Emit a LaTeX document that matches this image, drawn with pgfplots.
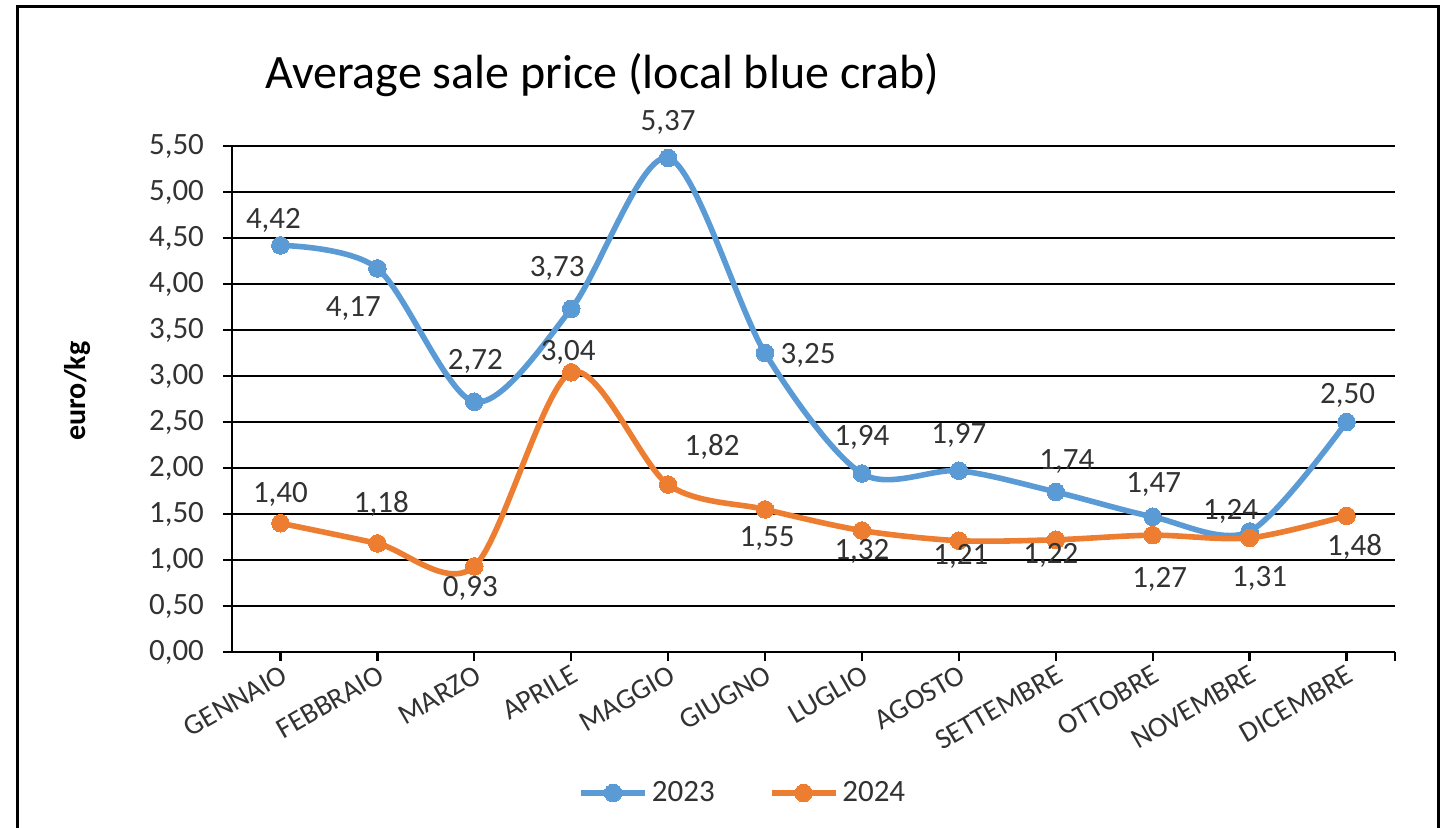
\documentclass[border=0pt]{standalone}
\usepackage{fontspec}
\setmainfont{Carlito}
\usepackage{pgfplots}
\usepackage{pgfplotstable}
\pgfplotsset{compat=1.18}

\definecolor{serA}{RGB}{91,155,213}
\definecolor{serB}{RGB}{237,125,49}
\definecolor{txt}{RGB}{50,50,50}

% x, value, label, label offset (pt)
\pgfplotstableread{
x y lab dx dy
0 4.42 4,42 -3.5 12.7
1 4.17 4,17 -12 -20
2 2.72 2,72 0.5 20
3 3.73 3,73 -7 20
4 5.37 5,37 0 18
5 3.25 3,25 21.5 -1
6 1.94 1,94 0 18
7 1.97 1,97 0 17.5
8 1.74 1,74 5.5 15
9 1.47 1,47 0.5 16
10 1.31 1,31 5 -23.7
11 2.50 2,50 0.5 13.5
}\tabA

\pgfplotstableread{
x y lab dx dy
0 1.40 1,40 0 14.5
1 1.18 1,18 2 19.7
2 0.93 0,93 -2 -10.8
3 3.04 3,04 -1.5 10
4 1.82 1,82 22 18.8
5 1.55 1,55 1 -14.3
6 1.32 1,32 0 -10.2
7 1.21 1,21 1 -8
8 1.22 1,22 -2.5 -8
9 1.27 1,27 3.5 -22
10 1.24 1,24 -9.5 13.5
11 1.48 1,48 4 -15.6
}\tabB

\pgfplotsset{
  datalabels/.style={
    nodes near coords,
    point meta=explicit symbolic,
    visualization depends on={\thisrow{dx} \as \labdx},
    visualization depends on={\thisrow{dy} \as \labdy},
    every node near coord/.append style={anchor=center, xshift=\labdx pt, yshift=\labdy pt,
      font=\fontsize{15.5}{18}\selectfont, text=txt},
  },
}

\begin{document}
\begin{tikzpicture}
\useasboundingbox (0,0) rectangle (723.5pt,413.5pt);
\draw[line width=1.5pt] (8.5pt,-5pt) -- (8.5pt,410pt) -- (719pt,410pt) -- (719pt,-5pt);
\node[anchor=base, font=\fontsize{24}{29}\selectfont] at (301pt,369.5pt) {Average sale price (local blue crab)};
\node[rotate=90, anchor=center, font=\fontsize{15}{18}\selectfont\bfseries] at (39pt,218pt) {euro/kg};
\begin{axis}[
    at={(116pt,87.5pt)}, anchor=south west,
    scale only axis, width=581.5pt, height=253pt,
    xmin=-0.5, xmax=11.5, ymin=0, ymax=5.5,
    clip=false,
    axis x line*=bottom, axis y line*=left,
    axis line style={line width=1.2pt, -},
    xtick={0,1,2,3,4,5,6,7,8,9,10,11},
    xticklabels={GENNAIO, FEBBRAIO, MARZO, APRILE, MAGGIO, GIUGNO, LUGLIO, AGOSTO, SETTEMBRE, OTTOBRE, NOVEMBRE, DICEMBRE},
    extra x ticks={11.5}, extra x tick labels={},
    ytick={0,0.5,1,1.5,2,2.5,3,3.5,4,4.5,5,5.5},
    yticklabel={\fontsize{15.5}{18}\selectfont\pgfmathprintnumber[fixed, fixed zerofill, precision=2, use comma, assume math mode=true]{\tick}},
    yticklabel shift=6pt,
    ymajorgrids, grid style={black, line width=1.2pt},
    tick align=outside, major tick length=4.5pt,
    tick style={black, line width=1.2pt},
    xticklabel style={rotate=30, anchor=north east, font=\fontsize{14.5}{17}\selectfont, text=txt, inner sep=1pt},
    yticklabel style={text=txt},
    legend style={at={(0.440,-0.2787)}, anchor=center, draw=none, legend columns=2,
      font=\fontsize{15.5}{18}\selectfont, text=txt,
      /tikz/every even column/.append style={column sep=25pt}},
    legend image code/.code={\draw[#1, mark repeat=2, mark phase=2] plot coordinates {(0pt,0pt) (16pt,0pt) (32pt,0pt)};},
]
\addplot[serA, line width=2.8pt, smooth, mark=*, mark size=4.4pt,
    mark options={solid, fill=serA, draw=serA, line width=0pt}, datalabels]
    table[x=x, y=y, meta=lab] {\tabA};
\addlegendentry{2023}
\addplot[serB, line width=2.8pt, smooth, mark=*, mark size=4.4pt,
    mark options={solid, fill=serB, draw=serB, line width=0pt}, datalabels]
    table[x=x, y=y, meta=lab] {\tabB};
\addlegendentry{2024}
\end{axis}
\end{tikzpicture}
\end{document}
